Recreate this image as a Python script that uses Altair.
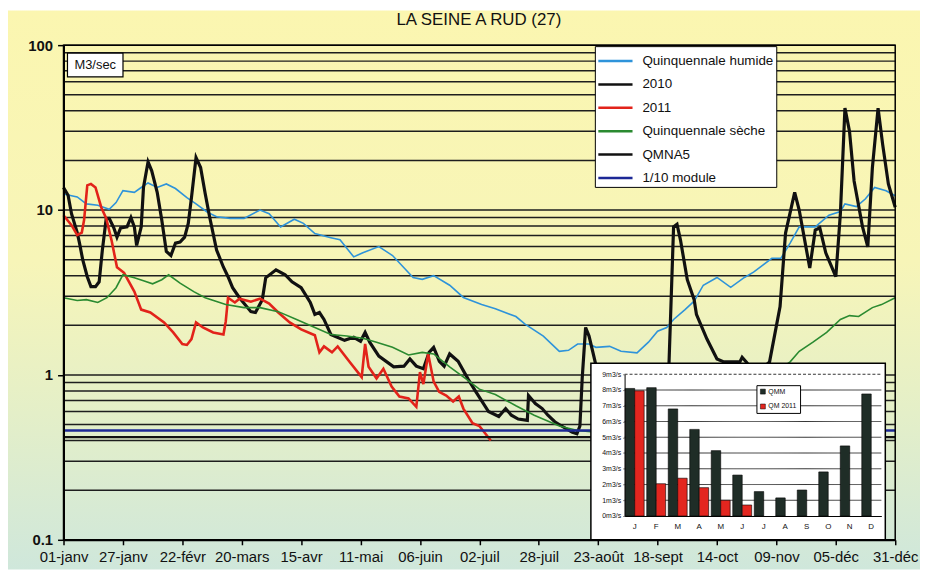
import altair as alt
import pandas as pd

# ---------------- data ----------------
x_tick_days = [0, 26, 52, 78, 104, 130, 156, 182, 208, 234, 260, 286, 312, 338, 364]
x_tick_labels = ['01-janv', '27-janv', '22-févr', '20-mars', '15-avr', '11-mai', '06-juin',
                 '02-juil', '28-juil', '23-août', '18-sept', '14-oct', '09-nov', '05-déc', '31-déc']
y_label_values = [0.1, 1, 10, 100]

series_names = ['Quinquennale humide', '2010', '2011', 'Quinquennale sèche', 'QMNA5', '1/10 module']
series_colors = ['#2e93da', '#111111', '#e2231a', '#2a8a30', '#111111', '#1c2896']
series_widths = [1.6, 3.2, 2.6, 1.6, 2.2, 2.6]

humide_days = [0, 6, 10, 15, 20, 23, 26, 31, 34, 37, 41, 45, 49, 54, 58, 63, 67, 73, 79, 86,
               90, 95, 101, 105, 110, 117, 121, 127, 131, 138, 144, 153, 157, 162, 169, 175, 183, 189, 198, 202,
               210, 217, 221, 225, 230, 233, 239, 244, 251, 256, 260, 264, 267, 272, 276, 280, 286, 292, 298, 302,
               310, 314, 318, 322, 329, 335, 340, 342, 347, 351, 355, 360, 364]
humide_vals = [12.5, 12.0, 10.9, 10.7, 10.1, 11.1, 13.1, 12.8, 13.7, 14.6, 13.7, 14.4, 13.5, 11.9, 10.9, 9.7, 9.1, 8.9, 8.9, 10.0,
               9.5, 7.9, 8.8, 8.3, 7.2, 6.8, 6.6, 5.2, 5.5, 6.0, 5.3, 3.9, 3.8, 4.0, 3.5, 2.95, 2.67, 2.52, 2.26, 2.03,
               1.72, 1.39, 1.41, 1.54, 1.54, 1.47, 1.49, 1.39, 1.36, 1.58, 1.84, 1.94, 2.17, 2.49, 2.8, 3.5, 3.9, 3.4, 3.9, 4.2,
               5.1, 5.1, 6.3, 7.9, 7.9, 9.3, 9.8, 10.9, 10.5, 11.7, 13.7, 13.1, 12.2]

y2010_days = [0, 2, 3.5, 6, 7, 8.4, 10.4, 12, 14, 15.6, 17, 18.7, 20, 22, 23.4, 25, 27.8, 29.5, 31, 32,
              34, 35, 37, 38.6, 41, 43, 45, 47, 49, 51, 53, 54.6, 56, 58, 60, 62, 64, 67, 70, 72,
              74, 77, 82, 84, 87, 88.5, 93, 97, 100, 104, 108, 110, 112, 114, 117, 123, 127, 130, 132, 134,
              138, 144.5, 149, 151.6, 154.4, 157.5, 160, 162, 164.5, 166.6, 169, 172.7, 177, 180.5, 186, 190.5, 193.5, 196, 199, 203,
              203.5, 206.5, 209.5, 212, 215, 218, 222.5, 224.7, 226, 227, 228.5, 230, 231.7, 234, 245, 255, 262, 265, 267, 268.5,
              270, 273, 276, 277, 281.6, 286, 289, 296, 297, 299, 303, 309, 313.6, 316, 320, 322, 326.6, 329, 331, 333.6,
              338, 340, 342, 344, 346, 349.7, 352, 354, 356.5, 358.5, 361, 364]
y2010_vals = [13.7, 12.3, 9.5, 7.3, 6.3, 5.0, 3.94, 3.43, 3.43, 3.67, 5.72, 8.9, 8.9, 7.8, 6.85, 7.8, 7.9, 9.0, 7.9, 6.1,
              7.9, 13.7, 19.6, 17.3, 12.8, 8.7, 5.6, 5.3, 6.3, 6.4, 6.85, 8.3, 11.9, 20.8, 18.1, 12.6, 9.0, 5.72, 4.5, 3.94,
              3.38, 2.94, 2.42, 2.39, 2.86, 3.88, 4.34, 4.05, 3.67, 3.38, 2.75, 2.33, 2.39, 2.17, 1.76, 1.62, 1.69, 1.6, 1.81, 1.58,
              1.3, 1.12, 1.13, 1.25, 1.13, 1.09, 1.37, 1.47, 1.21, 1.13, 1.34, 1.21, 0.946, 0.79, 0.6, 0.56, 0.625, 0.57, 0.54, 0.53,
              0.75, 0.67, 0.625, 0.57, 0.52, 0.49, 0.45, 0.44, 0.49, 0.95, 1.94, 1.72, 1.37, 1.0, 0.7, 0.7, 0.85, 1.18, 7.9, 8.2,
              6.6, 3.78, 2.86, 2.33, 1.65, 1.25, 1.2, 1.2, 1.28, 1.19, 1.0, 1.2, 2.6, 7.25, 12.8, 9.96, 4.45, 7.55, 7.8, 5.5,
              3.94, 9.5, 41.5, 30.0, 15.0, 7.9, 5.98, 18.0, 41.5, 25.0, 14.4, 10.4]

y2011_days = [0, 3.5, 6, 8, 9, 10.4, 12, 14, 16.5, 18.7, 21, 23.4, 26.5, 31, 34, 38, 44, 48, 52, 54,
              56, 58, 61, 65.5, 70, 71, 72, 75, 77, 82, 86, 90, 94, 99, 104, 110, 112, 114, 117.5, 120,
              125, 130.5, 132, 133.5, 137, 140, 143.6, 147, 151, 154.4, 156, 157.5, 159.6, 162, 164.4, 167.5, 170.5, 173, 175, 179,
              182, 187]
y2011_vals = [9.3, 8.1, 7.05, 7.3, 8.7, 14.1, 14.4, 13.7, 10.4, 8.9, 6.57, 4.5, 4.16, 3.2, 2.49, 2.39, 2.08, 1.81, 1.54, 1.52,
              1.65, 2.08, 1.94, 1.81, 1.76, 2.11, 2.94, 2.75, 2.9, 2.78, 2.9, 2.71, 2.39, 2.08, 1.89, 1.74, 1.37, 1.49, 1.37, 1.49,
              1.21, 0.97, 1.54, 1.12, 0.95, 1.09, 0.85, 0.74, 0.72, 0.64, 1.04, 0.88, 1.34, 0.91, 0.79, 0.75, 0.69, 0.74, 0.625, 0.51,
              0.49, 0.40]

seche_days = [0, 6, 10, 15, 19, 23, 26, 31, 35, 39, 43, 46, 51, 57, 62, 71, 79, 86, 94, 102,
              110, 117, 124, 131, 137, 144, 151, 157, 162, 169, 176, 182, 189, 198, 206, 217, 225, 240, 260, 280,
              300, 312, 318, 322, 328, 334, 340, 344, 348, 354, 358, 364]
seche_vals = [2.94, 2.83, 2.86, 2.75, 2.94, 3.38, 4.05, 3.88, 3.72, 3.57, 3.78, 4.05, 3.6, 3.2, 2.94, 2.67, 2.56, 2.56, 2.42, 2.17,
              1.94, 1.76, 1.72, 1.67, 1.58, 1.47, 1.32, 1.37, 1.34, 1.12, 0.95, 0.82, 0.76, 0.65, 0.57, 0.49, 0.46, 0.44, 0.45, 0.55,
              0.8, 1.05, 1.2, 1.39, 1.58, 1.81, 2.17, 2.29, 2.26, 2.56, 2.67, 2.94]

qmna5_days = [0, 364]
qmna5_vals = [0.42, 0.42]
module_days = [0, 364]
module_vals = [0.46, 0.46]

inset_months = ['J', 'F', 'M', 'A', 'M', 'J', 'J', 'A', 'S', 'O', 'N', 'D']
inset_series = ['QMM', 'QM 2011']
inset_colors = ['#1f2d27', '#e3261f']
qmm_vals = [8.1, 8.15, 6.8, 5.5, 4.15, 2.6, 1.55, 1.15, 1.65, 2.8, 4.45, 7.75]
qm2011_vals = [7.95, 2.05, 2.4, 1.8, 1.0, 0.7]

title_text = 'LA SEINE A RUD (27)'
unit_text = 'M3/sec'

# ---------------- tables ----------------
all_days = [humide_days, y2010_days, y2011_days, seche_days, qmna5_days, module_days]
all_vals = [humide_vals, y2010_vals, y2011_vals, seche_vals, qmna5_vals, module_vals]
rows = []
for name, ds, vs in zip(series_names, all_days, all_vals):
    for d, v in zip(ds, vs):
        rows.append({'series': name, 'day': d, 'value': v})
df = pd.DataFrame(rows)

grid_vals = [m * 10.0 ** e for e in (-1, 0, 1) for m in range(1, 10)] + [100.0]
grid_df = pd.DataFrame({'g': grid_vals})

inset_rows = []
for i, v in enumerate(qmm_vals):
    inset_rows.append({'m': i, 's': 'QMM', 'v': v})
for i, v in enumerate(qm2011_vals):
    inset_rows.append({'m': i, 's': 'QM 2011', 'v': v})
inset_df = pd.DataFrame(inset_rows)
inset_grid_df = pd.DataFrame({'v': list(range(1, 10))})

one = pd.DataFrame({'a': [0]})

# ---------------- layout ----------------
W, H = 839, 499
PL, PT, PR, PB = 56, 35, 25, 30
FONT = 'Liberation Sans'

x_label_expr = '[' + ','.join("'%s'" % s for s in x_tick_labels) + '][round(datum.value/26)]'
x_scale = alt.Scale(domain=[0, 364], nice=False, zero=False)
x_axis = alt.Axis(values=x_tick_days, labelExpr=x_label_expr, title=None, orient='bottom',
                  domainColor='black', domainWidth=2, tickColor='black', tickSize=5, tickWidth=1.5,
                  labelFontSize=15, labelColor='#111111', labelPadding=5, grid=False, zindex=1,
                  labelFlush=False, labelOverlap=False, labelFont=FONT)
y_scale = alt.Scale(type='log', domain=[0.1, 100], nice=False)
y_axis = alt.Axis(values=y_label_values, format='~g', title=None, orient='left',
                  domainColor='black', domainWidth=2, tickColor='black', tickSize=6, tickWidth=1.5,
                  labelFontSize=15, labelFontWeight='bold', labelColor='#111111', labelPadding=5,
                  grid=False, zindex=1, labelFont=FONT)

bg = alt.Chart(one).mark_rect(
    fill=alt.LinearGradient(gradient='linear', x1=0, x2=0, y1=0, y2=1,
                            stops=[alt.GradientStop(color='#fbf6b0', offset=0),
                                   alt.GradientStop(color='#f7f5b8', offset=0.45),
                                   alt.GradientStop(color='#e4efc8', offset=0.72),
                                   alt.GradientStop(color='#cfe7db', offset=1)])
).encode(x=alt.value(-PL), x2=alt.value(W + PR), y=alt.value(-PT), y2=alt.value(H + PB))

title_mark = alt.Chart(one).mark_text(text=title_text, fontSize=17, font=FONT, baseline='top',
                                      align='center', color='#111111').encode(
    x=alt.value(419), y=alt.value(-33))

grid = alt.Chart(grid_df).mark_rule(color='#1e1e1e', strokeWidth=1.5).encode(
    y=alt.Y('g:Q', scale=y_scale, axis=y_axis), x=alt.value(0), x2=alt.value(W))

main_legend = alt.Legend(title=None, orient='none', legendX=536, legendY=1, fillColor='white',
                         strokeColor='black', padding=2, symbolType='M-1,0H2', symbolSize=529,
                         labelOffset=20, labelFontSize=13.5, labelColor='#111111', rowPadding=3.6,
                         labelFont=FONT, symbolStrokeWidth=2.5)
color_scale = alt.Scale(domain=series_names, range=series_colors)

line_layers = []
for name, w in zip(series_names, series_widths):
    line_layers.append(
        alt.Chart(df).transform_filter(alt.datum.series == name).mark_line(strokeWidth=w).encode(
            x=alt.X('day:Q', scale=x_scale, axis=x_axis),
            y=alt.Y('value:Q', scale=y_scale, axis=y_axis),
            color=alt.Color('series:N', scale=color_scale, legend=main_legend),
        )
    )

unit_box = alt.Chart(one).mark_rect(fill='white', stroke='black', strokeWidth=1.2).encode(
    x=alt.value(4), x2=alt.value(60), y=alt.value(8), y2=alt.value(32))
unit_label = alt.Chart(one).mark_text(text=unit_text, fontSize=13, font=FONT, color='#111111',
                                      align='center', baseline='middle').encode(
    x=alt.value(32), y=alt.value(20))
border = alt.Chart(one).mark_rect(filled=False, stroke='black', strokeWidth=1.5).encode(
    x=alt.value(0), x2=alt.value(W), y=alt.value(0), y2=alt.value(H))

main = alt.layer(bg, title_mark, grid, *line_layers, unit_box, unit_label, border)

# ---------------- inset ----------------
month_expr = '[' + ','.join("'%s'" % s for s in inset_months) + '][datum.value]'
ix_scale = alt.Scale(domain=list(range(12)), range=[566, 825], paddingInner=0.12, paddingOuter=0.03)
iy_scale = alt.Scale(domain=[0, 9], range=[475, 332], nice=False, zero=True)
ix_axis = alt.Axis(orient='bottom', offset=-24, labelExpr=month_expr, ticks=False, domainColor='black',
                   domainWidth=1, labelFontSize=8, labelPadding=7, title=None, zindex=1, labelAngle=0,
                   labelColor='#111111', labelFont=FONT, grid=False)
iy_axis = alt.Axis(orient='left', offset=-566, values=list(range(10)), labelExpr="datum.value + 'm3/s'",
                   labelFontSize=7, tickSize=2, domainColor='black', title=None, grid=False, zindex=1,
                   labelPadding=2, labelColor='#111111', labelFont=FONT)

inset_box = alt.Chart(one).mark_rect(fill='white', stroke='black', strokeWidth=1.5).encode(
    x=alt.value(532), x2=alt.value(829), y=alt.value(321), y2=alt.value(499))
inset_grid = alt.Chart(inset_grid_df).mark_rule(color='#333333', strokeWidth=1).encode(
    y=alt.Y('v:Q', scale=iy_scale, axis=iy_axis), x=alt.value(566), x2=alt.value(825),
    strokeDash=alt.condition('datum.v == 9', alt.value([3, 2]), alt.value([1, 0])))
inset_bars = alt.Chart(inset_df).mark_bar(stroke='black', strokeWidth=0.6).encode(
    x=alt.X('m:O', scale=ix_scale, axis=ix_axis),
    xOffset=alt.XOffset('s:N', scale=alt.Scale(domain=inset_series)),
    y=alt.Y('v:Q', scale=iy_scale, axis=iy_axis),
    color=alt.Color('s:N', scale=alt.Scale(domain=inset_series, range=inset_colors),
                    legend=alt.Legend(title=None, orient='none', legendX=699, legendY=343,
                                      fillColor='white', strokeColor='black', padding=3,
                                      symbolType='square', symbolSize=25, symbolStrokeColor='black',
                                      symbolStrokeWidth=0.5, labelFontSize=7, labelOffset=2,
                                      rowPadding=7, labelColor='#111111', labelFont=FONT)),
)
inset = alt.layer(inset_box, inset_grid, inset_bars)

chart = alt.layer(main, inset).resolve_scale(
    x='independent', y='independent', color='independent'
).properties(
    width=W, height=H,
    autosize=alt.AutoSizeParams(type='none'),
    padding={'left': PL, 'top': PT, 'right': PR, 'bottom': PB},
).configure(font=FONT).configure_view(stroke=None)

chart.save('out.html', embed_options={'renderer': 'svg', 'actions': False})
